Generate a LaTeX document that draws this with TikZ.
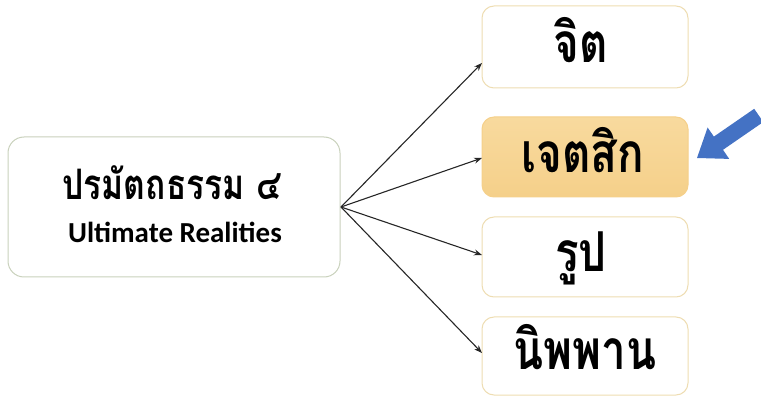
\documentclass[tikz,border=0pt]{standalone}
\usepackage{fontspec}
\setmainfont{Carlito}
\newfontfamily\thaifont[Script=Thai, FakeStretch=0.8]{Loma}
\usetikzlibrary{arrows.meta}
\definecolor{leftborder}{HTML}{C9D1BC}
\definecolor{rightborder}{HTML}{EEDDB2}
\definecolor{hilite}{HTML}{F5D08A}
\definecolor{hilitetop}{HTML}{F8DA9E}
\definecolor{bluearrow}{HTML}{4472C4}
\tikzset{
  mainbox/.style={draw=leftborder, line width=1pt, rounded corners=16pt, fill=white},
  itembox/.style={draw=rightborder, line width=1pt, rounded corners=12pt, fill=white},
  hibox/.style={draw=hilite, line width=1pt, rounded corners=12pt, top color=hilitetop, bottom color=hilite},
  itemtext/.style={anchor=base, inner sep=0pt, font=\thaifont\bfseries\fontsize{55}{60}\selectfont, text=black},
  link/.style={draw=black!85, line width=1.1pt, -{Stealth[length=8pt,width=6pt]}}
}
\begin{document}
\begin{tikzpicture}[x=1pt,y=-1pt]
\useasboundingbox (0,0) rectangle (761,398);
% main box
\draw[mainbox] (8,137) rectangle (340,277);
\node[anchor=base, inner sep=0pt] (mainA) at (172,200) {\thaifont\bfseries\fontsize{42}{46}\selectfont ปรมัตถธรรม ๔};
\node[anchor=base, inner sep=0pt] (mainB) at (175,243) {\bfseries\fontsize{29}{32}\selectfont Ultimate Realities};
\coordinate (src) at (341,207);
% item boxes
\draw[itembox] (482,6) rectangle (688,88);
\node[itemtext] (jit) at (581,63) {จิต};
\draw[hibox] (482,117) rectangle (688,197);
\node[itemtext] (jet) at (583,173) {เจตสิก};
\draw[itembox] (482,217) rectangle (688,297);
\node[itemtext] (rup) at (581,272) {รูป};
\draw[itembox] (482,317) rectangle (688,395);
\node[itemtext] (nib) at (585,370) {นิพพาน};
\coordinate (e1) at (482,63);
\coordinate (e2) at (482,158);
\coordinate (e3) at (482,255);
\coordinate (e4) at (482,353);
\draw[link] (src) -- (e1);
\draw[link] (src) -- (e2);
\draw[link] (src) -- (e3);
\draw[link] (src) -- (e4);
% blue block arrow
\fill[bluearrow] (697,158) -- (729.2,158.9) -- (723.0,149.8) -- (763.3,122.0) -- (754.2,108.8) -- (713.9,136.6) -- (707.6,127.5) -- cycle;
\end{tikzpicture}
\end{document}
